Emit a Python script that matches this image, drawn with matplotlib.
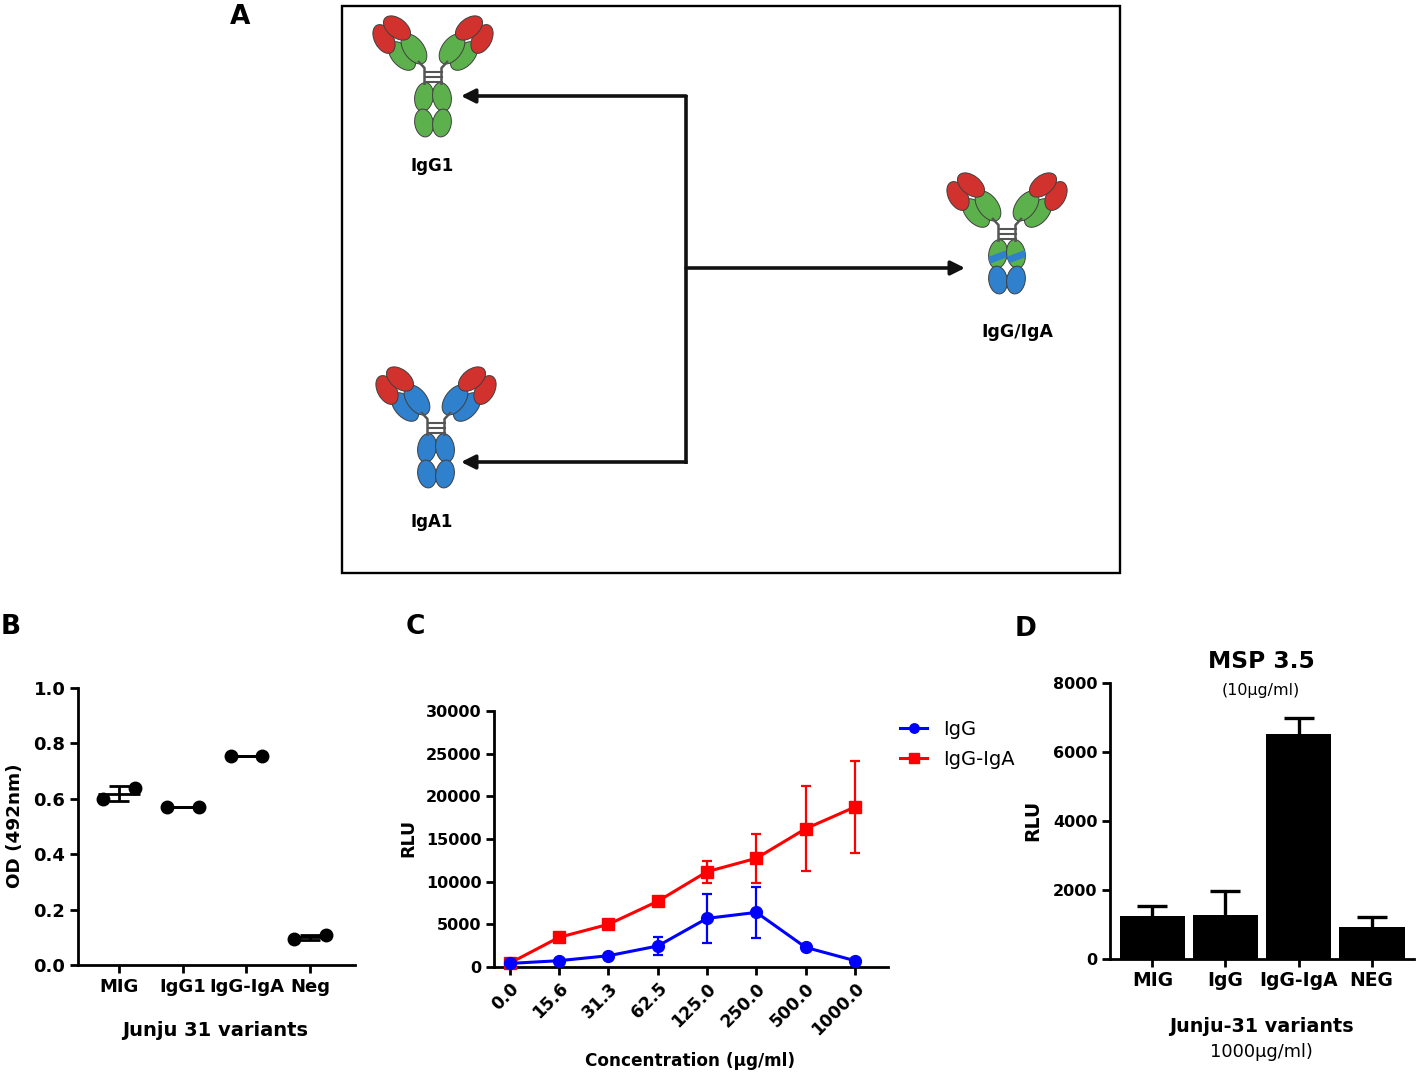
"""Figure: IgG/IgA hybrid schematic (A) + ELISA (B), dose response (C) and MSP 3.5 binding (D)."""

import matplotlib
matplotlib.use("Agg")
import matplotlib.pyplot as plt
import numpy as np
from matplotlib.patches import Ellipse, Rectangle

W, H = 1417, 1077

# ---- panel B: ELISA, two replicates per variant
B_GROUPS = ["MIG", "IgG1", "IgG-IgA", "Neg"]
B_REP1 = [0.600, 0.572, 0.755, 0.093]
B_REP2 = [0.638, 0.572, 0.755, 0.108]
B_MEAN = [0.619, 0.572, 0.755, 0.100]
B_ERR = [0.026, 0.0, 0.0, 0.008]

# ---- panel C: RLU vs concentration
C_CONC = ["0.0", "15.6", "31.3", "62.5", "125.0", "250.0", "500.0", "1000.0"]
C_IGG = [420, 740, 1320, 2460, 5700, 6400, 2300, 740]
C_IGG_ERR = [80, 100, 150, 1070, 2900, 3000, 250, 100]
C_IGGA = [450, 3480, 5000, 7700, 11170, 12740, 16210, 18750]
C_IGGA_ERR = [100, 150, 200, 200, 1300, 2850, 5000, 5370]

# ---- panel D: MSP 3.5 binding
D_GROUPS = ["MIG", "IgG", "IgG-IgA", "NEG"]
D_RLU = [1245, 1275, 6515, 935]
D_ERR = [300, 695, 485, 272]

RED = "#d2322d"
GREEN = "#5db14c"
BLUE = "#2f80cd"
EDGE = "#3f3f3f"
HINGE = "#555555"

plt.rcParams["font.family"] = ["DejaVu Sans"]
plt.rcParams["font.weight"] = "bold"
plt.rcParams["axes.labelweight"] = "bold"


def px_box(left, top, right, bottom):
    return [left / W, 1 - bottom / H, (right - left) / W, (bottom - top) / H]


def style(ax, fs):
    ax.patch.set_visible(False)
    for s in ("top", "right"):
        ax.spines[s].set_visible(False)
    for s in ("left", "bottom"):
        ax.spines[s].set_linewidth(2)
    ax.tick_params(width=2, length=6, labelsize=fs, pad=3)


def draw_antibody(ax, cx, cy, tip, base, fc_top, fc_bot, stripe=None):
    # hinge first so the domains sit on top of it
    for s in (-1, 1):
        ax.plot([cx + s * 15, cx + s * 8.5, cx + s * 8.5], [cy - 16, cy - 9, cy + 8],
                color=HINGE, lw=1.8, solid_capstyle="butt")
    for dy in (-5, 0, 5):
        ax.plot([cx - 8.5, cx + 8.5], [cy + dy, cy + dy], color=HINGE, lw=1.5)
    # (dx, dy, major, minor, angle, colour, is_fc_top) for the left half; right half mirrored
    parts = [
        (-31, -21, 34, 20, 48, base, False),
        (-19, -28, 34, 20, 54, base, False),
        (-49, -38, 31, 19, 62, tip, False),
        (-36, -49, 31, 19, 38, tip, False),
        (-9, 20, 29, 18.5, 99, fc_top, True),
        (-9, 46, 28, 18.5, 81, fc_bot, False),
    ]
    for dx, dy, a, b, ang, col, is_fc_top in parts:
        for s in (1, -1):
            e = Ellipse((cx + s * dx, cy + dy), a, b, angle=ang if s == 1 else 180 - ang,
                        facecolor=col, edgecolor=EDGE, lw=0.7)
            ax.add_patch(e)
            if stripe is not None and is_fc_top:
                band = Rectangle((cx + s * dx - 15, cy + dy + 3 - 3.5), 30, 7,
                                 angle=-20, rotation_point="center",
                                 facecolor=stripe, edgecolor="none", zorder=e.get_zorder())
                ax.add_patch(band)
                band.set_clip_path(e)


def panel_a(ax0):
    ax0.add_patch(Rectangle((342, 6), 778, 567, fill=False, edgecolor="black", lw=1.7))
    draw_antibody(ax0, 433, 77, RED, GREEN, GREEN, GREEN)
    draw_antibody(ax0, 436, 428, RED, BLUE, BLUE, BLUE)
    draw_antibody(ax0, 1007, 234, RED, GREEN, GREEN, BLUE, stripe=BLUE)
    ax0.text(432, 166, "IgG1", ha="center", va="center", fontsize=12)
    ax0.text(432, 522, "IgA1", ha="center", va="center", fontsize=12)
    ax0.text(1017, 332, "IgG/IgA", ha="center", va="center", fontsize=12.5)

    ax0.plot([686, 686], [94.5, 463.5], color="#111111", lw=2.6, solid_capstyle="butt")
    arrow = dict(arrowstyle="-|>", lw=2.6, color="#111111", mutation_scale=21,
                 shrinkA=0, shrinkB=0)
    ax0.annotate("", xy=(461, 96), xytext=(686, 96), arrowprops=arrow)
    ax0.annotate("", xy=(461, 462), xytext=(686, 462), arrowprops=arrow)
    ax0.annotate("", xy=(965, 268), xytext=(686, 268), arrowprops=arrow)


def panel_b(fig):
    ax = fig.add_axes(px_box(78, 688, 355, 965))
    x = np.arange(len(B_GROUPS))
    ax.hlines(B_MEAN, x - 0.33, x + 0.33, color="black", lw=2, zorder=2)
    ax.errorbar(x, B_MEAN, yerr=B_ERR, fmt="none", ecolor="black", elinewidth=2,
                capsize=7, capthick=2, zorder=2)
    ax.plot(x - 0.25, B_REP1, "o", color="black", ms=9, zorder=3)
    ax.plot(x + 0.25, B_REP2, "o", color="black", ms=9, zorder=3)
    ax.set_xlim(-0.64, 3.7)
    ax.set_ylim(0, 1.0)
    ax.set_yticks(np.arange(0, 1.01, 0.2))
    ax.set_yticklabels([f"{v:.1f}" for v in np.arange(0, 1.01, 0.2)])
    ax.set_xticks(x)
    ax.set_xticklabels(B_GROUPS)
    style(ax, 13)
    ax.set_xlabel("Junju 31 variants", fontsize=14)
    ax.set_ylabel("OD (492nm)", fontsize=13.2)
    ax.xaxis.set_label_coords(0.495, -0.235)
    ax.xaxis.label.set_va("center")
    ax.yaxis.set_label_coords(-0.227, 0.502)
    ax.yaxis.label.set_va("center")


def panel_c(fig):
    ax = fig.add_axes(px_box(494, 711, 888, 967))
    x = np.arange(len(C_CONC))
    ax.plot(x, C_IGG, color="#0000ff", marker="o", ms=8.5, lw=2.2, label="IgG",
            zorder=4, clip_on=False)
    ax.plot(x, C_IGGA, color="#ff0000", marker="s", ms=8.5, lw=2.2, label="IgG-IgA",
            zorder=3, clip_on=False)
    ax.errorbar(x, C_IGG, yerr=C_IGG_ERR, fmt="none", ecolor="#0000ff", elinewidth=1.6,
                capsize=3.6, capthick=1.6, zorder=4)
    ax.errorbar(x, C_IGGA, yerr=C_IGGA_ERR, fmt="none", ecolor="#ff0000", elinewidth=1.6,
                capsize=3.6, capthick=1.6, zorder=3)
    ax.set_xlim(-0.32, 7.67)
    ax.set_ylim(0, 30000)
    ax.set_yticks(np.arange(0, 30001, 5000))
    ax.set_xticks(x)
    ax.set_xticklabels(C_CONC, rotation=45, ha="right", va="top", rotation_mode="anchor")
    style(ax, 11.5)
    ax.tick_params(axis="x", labelsize=12.3)
    ax.set_xlabel("Concentration (µg/ml)", fontsize=12.2)
    ax.set_ylabel("RLU", fontsize=12.5)
    ax.xaxis.set_label_coords(0.497, -0.367)
    ax.xaxis.label.set_va("center")
    ax.yaxis.set_label_coords(-0.218, 0.504)
    ax.yaxis.label.set_va("center")
    ax.legend(loc="upper left", bbox_to_anchor=(900 / W, 1 - 720 / H),
              bbox_transform=fig.transFigure, frameon=False, borderpad=0,
              borderaxespad=0, handlelength=1.4, handletextpad=0.8, labelspacing=0.55,
              markerscale=0.8, prop={"size": 14, "weight": "normal"})


def panel_d(fig, ax0):
    ax = fig.add_axes(px_box(1110, 683, 1414, 959))
    x = np.arange(len(D_GROUPS))
    ax.bar(x, D_RLU, width=0.9, color="black", zorder=2)
    eb = ax.errorbar(x, D_RLU, yerr=[np.zeros(len(D_ERR)), D_ERR], fmt="none",
                     ecolor="black", elinewidth=2.4, capsize=10.8, capthick=2.4, zorder=1)
    # one-sided bars: drop the caps that sit on the bar tops
    for cap in eb[1]:
        if np.allclose(cap.get_ydata(), D_RLU):
            cap.set_visible(False)
    ax.set_xlim(-0.58, 3.58)
    ax.set_ylim(0, 8000)
    ax.set_yticks(np.arange(0, 8001, 2000))
    ax.set_xticks(x)
    ax.set_xticklabels(D_GROUPS)
    style(ax, 11.5)
    ax.tick_params(axis="x", labelsize=13.5)
    ax.set_xlabel("Junju-31 variants", fontsize=13.8)
    ax.set_ylabel("RLU", fontsize=13.6)
    ax.xaxis.set_label_coords(0.497, -0.243)
    ax.xaxis.label.set_va("center")
    ax.yaxis.set_label_coords(-0.253, 0.504)
    ax.yaxis.label.set_va("center")
    ax0.text(1261, 662, "MSP 3.5", ha="center", va="center", fontsize=16.8)
    ax0.text(1261, 690, "(10µg/ml)", ha="center", va="center", fontsize=11.4,
             fontweight="normal")
    ax0.text(1261, 1052, "1000µg/ml)", ha="center", va="center", fontsize=12.8,
             fontweight="normal")


def main():
    fig = plt.figure(figsize=(W / 100, H / 100), dpi=100)
    ax0 = fig.add_axes([0, 0, 1, 1])
    ax0.set_xlim(0, W)
    ax0.set_ylim(H, 0)
    ax0.axis("off")

    panel_a(ax0)
    panel_b(fig)
    panel_c(fig)
    panel_d(fig, ax0)

    for letter, (lx, ly) in {"A": (240, 17), "B": (11, 627), "C": (415, 627),
                             "D": (1026, 629)}.items():
        ax0.text(lx, ly, letter, ha="center", va="center", fontsize=19)

    fig.savefig("out.png", dpi=100)


if __name__ == "__main__":
    main()
